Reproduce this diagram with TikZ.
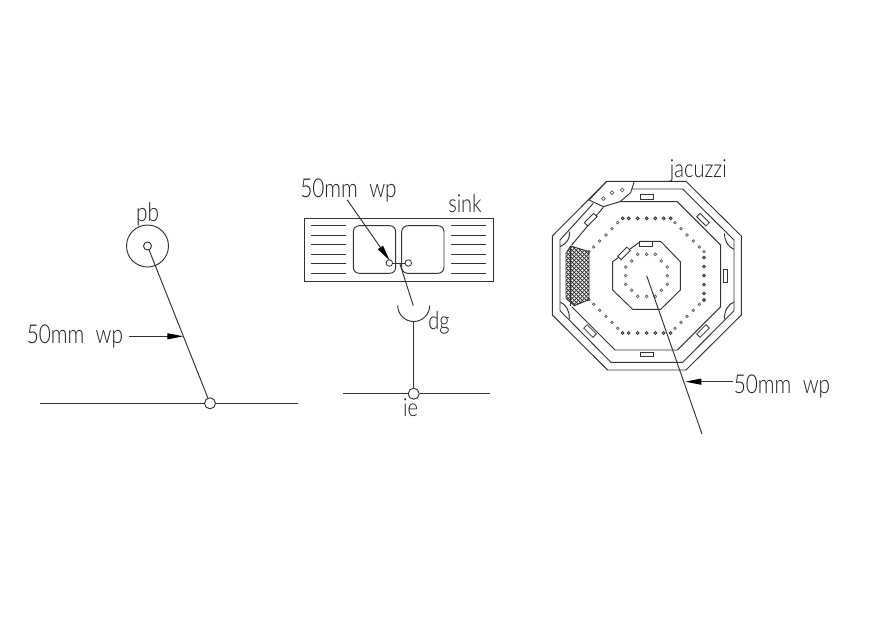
\documentclass[tikz,border=0pt]{standalone}
\usepackage{fontspec}
\setmainfont[FakeStretch=0.8]{Lato Light}
\usetikzlibrary{arrows.meta}
\definecolor{ink}{gray}{0.2}
\definecolor{txt}{gray}{0.12}
\tikzset{
  ln/.style={draw=ink,line width=0.95pt},
  lbl/.style={text=txt,font=\fontsize{26}{26}\selectfont,inner sep=0pt},
  lbls/.style={text=txt,font=\fontsize{25}{25}\selectfont,inner sep=0pt},
  hole/.style={circle,draw=ink,line width=0.95pt,fill=white,inner sep=0pt,minimum size=#1},
  tip/.style={ln,-{Triangle[length=16pt,width=6pt,color=black]}},
  jet/.style={draw=ink,line width=0.8pt,fill=white,inner sep=0pt,minimum width=13pt,minimum height=4.8pt},
  dot/.style={draw=ink!80,line width=0.7pt},
  dark/.style={draw=ink,fill=ink!45,line width=0.8pt}
}
\begin{document}
\begin{tikzpicture}[x=1pt,y=-1pt]
\useasboundingbox (0,0) rectangle (870,625);
\fill[white] (0,0) rectangle (870,625);

% --- pb ---
\node[hole=42pt,fill=none] (pbring) at (147.5,246) {};
\node[hole=8pt] (pbhole) at (147.5,246) {};
\node[hole=11pt,fill=none] (pbjoin) at (210,403.3) {};
\coordinate (pbl) at (40,403.3);
\coordinate (pbr) at (298,403.3);
\draw[ln] (pbl) -- (pbjoin) -- (pbr);
\draw[ln] (pbhole) -- (pbjoin);
\node[lbl] (pbt) at (147.5,214) {pb};
\node[lbl] (pbw) at (75,336.5) {50mm\ \ wp};
\coordinate (pbs) at (129,336.3);
\coordinate (pbe) at (183.3,336.3);
\draw[tip] (pbs) -- (pbe);

% --- sink ---
\node[ln,rectangle,minimum width=189.3pt,minimum height=62.7pt,inner sep=0pt] (sinkbody) at (398.65,249.65) {};
\foreach \y in {225.7,235.3,244.7,254,263.7,273.3}{
  \draw[ln] (311,\y) -- (346,\y);
  \draw[ln] (451.3,\y) -- (486.3,\y);
}
\draw[ln,rounded corners=6pt] (353.3,225.7) rectangle (395.7,273.3);
\draw[ln,rounded corners=6pt] (401.7,225.7) rectangle (444,273.3);
\node[hole=6.5pt,line width=0.8pt] (h1) at (389.3,263) {};
\node[hole=6.5pt,line width=0.8pt] (h2) at (408.3,263) {};
\draw[ln] (h1) -- (h2);
\coordinate (ps) at (399.7,263.2);
\coordinate (pe) at (413.3,305.7);
\draw[ln] (ps) -- (pe);
\coordinate (as) at (347.3,200);
\coordinate (ae) at (389.6,260.5);
\draw[tip] (as) -- (ae);
\node[lbl] (sw) at (348.5,190) {50mm\ \ wp};
\node[lbls] (st) at (465,203) {sink};
\draw[ln] (397.7,305.5) arc[start angle=180,end angle=0,radius=16];
\coordinate (dgb) at (413.7,321.5);
\node[hole=11pt,fill=none] (ie) at (413.7,393.7) {};
\draw[ln] (dgb) -- (ie);
\coordinate (il) at (343,393.7);
\coordinate (ir) at (490,393.7);
\draw[ln] (il) -- (ie) -- (ir);
\node[lbls] (dgt) at (439,323) {dg};
\node[lbls] (iet) at (410.5,408) {ie};

% --- jacuzzi (coordinates in thirds of a pixel, offset 540,150) ---
\begin{scope}[x=0.33333pt,y=-0.33333pt,shift={(540pt,-150pt)}]
  % outer
  \draw[ln] (200,94) -- (438,94) -- (604,258) -- (604,495) -- (438,660) -- (203,660) -- (37,495) -- (37,258) -- cycle;
  % middle
  \draw[ln] (275,117) -- (428,117) -- (582,270) -- (582,482) -- (428,637) -- (213,637) -- (60,482) -- (60,270) -- (160,160);
  % inner
  \draw[ln] (240,155) -- (412,155) -- (542,285) -- (542,470) -- (412,600) -- (225,600) -- (95,470);
  \draw[ln] (95,285) -- (190,172);
  % seat at top-left
  \draw[ln] (283,94) -- (272,128) -- (240,155) -- (190,170) -- (147,150) -- (200,94);
  \foreach \p in {(190,146),(216,128),(247,120)} \draw[dot] \p circle[radius=1.9pt];
  % corner arcs
  \draw[ln] (88,245) .. controls (92,262) and (80,282) .. (60,290);
  \draw[ln] (553,250) .. controls (553,272) and (565,292) .. (582,298);
  \draw[ln] (582,456) .. controls (565,462) and (553,482) .. (553,507);
  \draw[ln] (60,456) .. controls (78,462) and (90,485) .. (88,507);
  % centre octagon
  \draw[ln] (302,274) -- (362,274) -- (421,335) -- (421,420) -- (362,478) -- (278,478) -- (218,420) -- (218,335) -- cycle;
  % jets
  \node[jet] (j1) at (320,140) {};
  \node[jet] (j2) at (320,613) {};
  \node[jet,rotate=90] (j3) at (556,377) {};
  \node[jet,rotate=45] (j4) at (152,209) {};
  \node[jet,rotate=-45] (j5) at (489,209) {};
  \node[jet,rotate=45] (j6) at (489,543) {};
  \node[jet,rotate=-45] (j7) at (150,543) {};
  \node[jet] (j8) at (319,281) {};
  \node[jet,rotate=45] (j9) at (252,310) {};
  % ring of dots
  \foreach \p in {(248,205),(266,205),(293,205),(320,205),(346,205),(371,205),(392,205),(492,323),(492,350),(492,377),(492,404),(492,430),(492,450),(392,549),(371,549),(346,549),(320,549),(293,549),(266,549),(248,549)}
    \draw[dark] \p circle[radius=1.5pt];
  \foreach \p in {(405,218),(423,236),(441,255),(460,273),(478,291),(492,305),(478,463),(460,481),(441,499),(423,517),(405,535),(233,535),(216,517),(198,499),(179,481),(161,463),(147,449),(147,305),(161,291),(179,273),(198,255),(216,236),(233,218)}
    \draw[dot] \p circle[radius=1.3pt];
  % inner ring
  \foreach \p in {(293,313),(320,313),(346,313),(364,333),(382,351),(382,377),(382,403),(364,421),(346,439),(320,439),(293,439),(275,421),(257,403),(257,377),(257,351),(275,333)}
    \draw[dot] \p circle[radius=1.4pt];
  % net
  \begin{scope}
    \clip (92,288) -- (147,305) -- (147,449) -- (103,467) -- (78,445) -- (78,310) -- cycle;
    \foreach \k in {-20,...,60}{
      \draw[ink,line width=0.8pt] (60,{\k*12}) -- (170,{\k*12+110});
      \draw[ink,line width=0.8pt] (60,{\k*12+110}) -- (170,{\k*12});
    }
  \end{scope}
  \draw[ln] (92,288) -- (147,305) -- (147,449) -- (103,467) -- (78,445) -- (78,310) -- cycle;
  \draw[ln] (92,288) -- (92,467);
  % pipe
  \coordinate (jps) at (320,377);
  \coordinate (jpe) at (486,852);
  \draw[ln] (jps) -- (jpe);
  \coordinate (jas) at (580,695);
  \coordinate (jae) at (436,695);
  \draw[tip] (jas) -- (jae);
  \node[lbls] (jt) at (475,62) {jacuzzi};
\end{scope}
\node[lbl] (jw) at (782,386) {50mm\ \ wp};
\end{tikzpicture}
\end{document}
